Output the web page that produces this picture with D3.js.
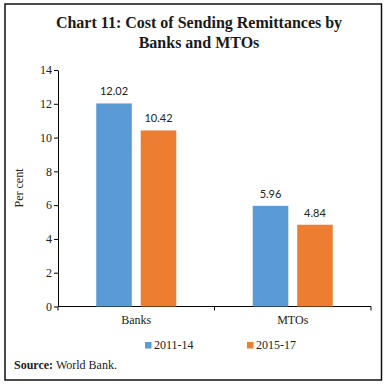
<!DOCTYPE html>
<html><head><meta charset="utf-8">
<script src="https://cdn.jsdelivr.net/npm/d3@7"></script>
<style>body{margin:0;background:#fff}svg{display:block}</style>
</head><body>
<svg id="c" width="387" height="386"></svg>
<script>
const categories = ["Banks", "MTOs"];
const seriesNames = ["2011-14", "2015-17"];
const values2011_14 = [12.02, 5.96];
const values2015_17 = [10.42, 4.84];
const yTicks = [0, 2, 4, 6, 8, 10, 12, 14];
const colors = ["#5B9BD5", "#ED7D31"];

const seriesVals = [values2011_14, values2015_17];
const svg = d3.select("#c");
const serif = "'Liberation Serif', 'DejaVu Serif', serif";
const sans = "Lato, 'Liberation Sans', sans-serif";

svg.append("rect").attr("x", 5).attr("y", 4).attr("width", 376.5).attr("height", 376)
  .attr("fill", "none").attr("stroke", "#111").attr("stroke-width", 1.5);

const title = svg.append("text").attr("text-anchor", "middle")
  .attr("font-family", serif).attr("font-weight", "bold").attr("font-size", 16).attr("fill", "#1a1a1a");
title.append("tspan").attr("x", 199).attr("y", 28).text("Chart 11: Cost of Sending Remittances by");
title.append("tspan").attr("x", 199).attr("y", 48).text("Banks and MTOs");

const x0 = 58, x1 = 371, yb = 306.5, yt = 70;
const y = d3.scaleLinear().domain([0, 14]).range([yb, yt]);
const xc = d3.scaleBand().domain(categories).range([x0, x1]).paddingInner(0).paddingOuter(0);
const xs = d3.scaleBand().domain(seriesNames).range([0, xc.bandwidth()]).paddingInner(0.2).paddingOuter(0.86);

// y axis
const ya = svg.append("g").attr("transform", `translate(${x0},0)`)
  .call(d3.axisLeft(y).tickValues(yTicks).tickSize(4).tickSizeOuter(0));
ya.select(".domain").attr("stroke", "#000");
ya.selectAll(".tick line").attr("stroke", "#000");
ya.selectAll("text").attr("font-family", serif).attr("font-size", 12).attr("fill", "#222").attr("x", -6);

// x axis
const xa = svg.append("g").attr("transform", `translate(0,${yb})`);
xa.append("line").attr("x1", x0).attr("x2", x1).attr("stroke", "#000");
[x0, ...categories.map(c => xc(c) + xc.bandwidth())].forEach(v => {
  xa.append("line").attr("x1", v).attr("x2", v).attr("y1", 0).attr("y2", 4).attr("stroke", "#000");
});
categories.forEach(c => {
  svg.append("text").attr("x", xc(c) + xc.bandwidth() / 2).attr("y", 324)
    .attr("text-anchor", "middle").attr("font-family", serif).attr("font-size", 12).attr("fill", "#222").text(c);
});

// bars
seriesNames.forEach((s, si) => {
  categories.forEach((c, ci) => {
    const v = seriesVals[si][ci];
    const bx = xc(c) + xs(s);
    svg.append("rect").attr("x", bx).attr("y", y(v)).attr("width", xs.bandwidth())
      .attr("height", yb - y(v)).attr("fill", colors[si]);
    svg.append("text").attr("x", bx + xs.bandwidth() / 2).attr("y", y(v) - 8)
      .attr("text-anchor", "middle").attr("font-family", sans).attr("font-size", 11).attr("fill", "#222")
      .text(v.toFixed(2));
  });
});

// y label
svg.append("text").attr("transform", "translate(23,188) rotate(-90)").attr("text-anchor", "middle")
  .attr("font-family", serif).attr("font-size", 12).attr("fill", "#222").text("Per cent");

// legend
const legX = [145, 247];
seriesNames.forEach((s, i) => {
  svg.append("rect").attr("x", legX[i]).attr("y", 342).attr("width", 6.5).attr("height", 6.5).attr("fill", colors[i]);
  svg.append("text").attr("x", legX[i] + 9).attr("y", 349).attr("font-family", serif).attr("font-size", 12)
    .attr("fill", "#222").text(s);
});

// source
const src = svg.append("text").attr("x", 14).attr("y", 369).attr("font-family", serif).attr("font-size", 12).attr("fill", "#222");
src.append("tspan").attr("font-weight", "bold").text("Source:");
src.append("tspan").text(" World Bank.");
</script>
</body></html>
